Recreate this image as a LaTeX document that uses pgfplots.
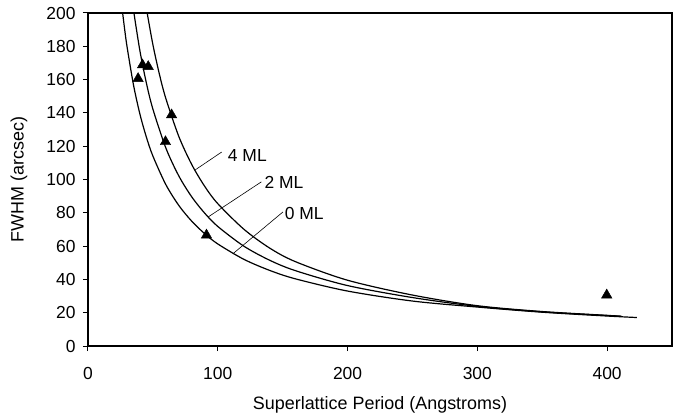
\documentclass[border=0pt]{standalone}
\usepackage{fontspec}
\setmainfont{Liberation Sans}
\usepackage{pgfplots}
\pgfplotsset{compat=1.18}
\begin{document}
\begin{tikzpicture}
\begin{axis}[
  scale only axis, width=584bp, height=333bp,
  xmin=0, xmax=450, ymin=0, ymax=200,
  xtick={0,100,...,400}, ytick={0,20,...,200},
  tick pos=left, tick align=outside, major tick length=5bp,
  axis line style={line width=1.1bp, black},
  tick style={line width=1bp, black},
  /pgf/number format/assume math mode=true,
  ticklabel style={font=\fontsize{17.5}{20}\selectfont},
  xticklabel style={yshift=-13bp},
  yticklabel style={xshift=-4bp},
  label style={font=\fontsize{18}{21}\selectfont},
  xlabel={Superlattice Period (Angstroms)},
  ylabel={FWHM (arcsec)},
  xlabel style={at={(axis description cs:0.5,-0.177)}, anchor=center},
  ylabel style={at={(axis description cs:-0.118,0.5)}, anchor=center},
]
\coordinate (SW) at (rel axis cs:0,0);
% 0 ML
\addplot[black, line width=1.2bp, smooth, no marks] coordinates {
(26.7,200) (28,191.7) (30,180.2) (35,157.0) (40,139.3) (45,125.4) (50,114.1)
(60,96.9) (70,84.4) (80,74.9) (90,67.4) (100,61.3) (120,52.1) (140,45.4)
(160,40.3) (200,33.0) (250,27.0) (300,23.4) (350,20.3) (400,18.0) (423,17.1)};
% 2 ML
\addplot[black, line width=1.2bp, smooth, no marks] coordinates {
(35.4,200) (40,177.3) (45,157.9) (50,142.3) (60,118.9) (70,102.1) (80,89.5)
(90,79.7) (100,71.8) (120,60.0) (140,51.5) (160,45.2) (200,36.3) (250,29.1)
(300,23.8) (350,20.5) (400,18.3) (411,17.8)};
% 4 ML
\addplot[black, line width=1.2bp, smooth, no marks] coordinates {
(45.6,200) (50,181.0) (55,163.3) (60,148.6) (70,125.8) (80,108.9) (90,95.8)
(100,85.5) (120,70.2) (140,58.8) (160,50.6) (200,39.5) (250,30.6) (300,24.2)
(350,20.7) (400,18.4) (411,17.9)};
% measured points
\addplot[only marks, mark=triangle*, mark size=6bp, black] coordinates {
(38.6,160.6) (42,168.8) (46.4,167.8) (59.7,122.7) (64.4,138.8) (91.3,66.6) (399.7,30.6)};
% labels
\draw[black, line width=0.6bp] (axis cs:82.3,105.6) -- (axis cs:103,116.5);
\draw[black, line width=0.6bp] (axis cs:92.6,77.5) -- (axis cs:133.6,98.6);
\draw[black, line width=0.6bp] (axis cs:111.8,55.5) -- (axis cs:150.2,80.5);
\node[anchor=west, inner sep=0pt, font=\fontsize{17.5}{20}\selectfont] at (axis cs:107.7,114.2) {4 ML};
\node[anchor=west, inner sep=0pt, font=\fontsize{17.5}{20}\selectfont] at (axis cs:136,98.0) {2 ML};
\node[anchor=west, inner sep=0pt, font=\fontsize{17.5}{20}\selectfont] at (axis cs:151.5,79.6) {0 ML};
\end{axis}
\pgfresetboundingbox
\path (SW) ++(-88bp,-73bp) rectangle ++(673bp,419bp);
\end{tikzpicture}
\end{document}
